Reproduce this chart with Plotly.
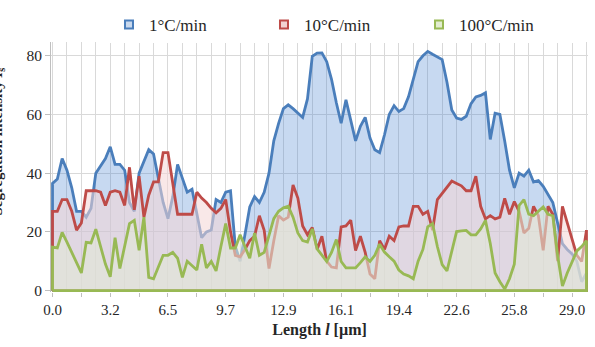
import plotly.graph_objects as go

# ---------------- data ----------------
step_um = 3.227 / 12          # spacing between successive samples along the line
n_points = 112
length_um = [i * step_um for i in range(n_points)]

rate_1 = [36.5, 38, 45, 41, 35, 27, 27, 25, 28, 40, 42.5, 45, 49, 43, 43, 41, 30, 27, 40, 44,
          48, 46.5, 38, 30, 24.5, 32, 43, 38, 33.5, 34.5, 26, 18, 20, 20.6, 31, 30, 33.5, 34, 15, 10,
          19, 28.5, 32, 30, 33.5, 40, 51, 57, 62, 63.3, 62, 60.4, 59, 65.3, 79.8, 80.9, 81, 78, 72, 64,
          57, 65, 58, 51, 56, 59, 52, 48, 47, 53, 60, 63, 61, 62, 66, 72, 78, 80, 81.5, 80.5,
          79.6, 78.7, 71, 61.5, 58.8, 58.3, 59.4, 63.7, 66, 66.5, 67.4, 51.5, 60.4, 60, 51, 41, 35, 40, 39, 41,
          37, 37.5, 35.5, 32.5, 30, 23, 16, 14, 12.5, 10, 3, 6]

rate_10 = [27, 27, 31, 31, 27, 20.6, 23, 34, 34, 34, 33.5, 29, 33.5, 34, 33.5, 29, 42, 27.5, 39, 25,
           32.5, 37, 37, 47, 47, 36.8, 26, 26, 26, 26, 33.5, 31.5, 30, 28, 26.5, 28, 31, 20, 12, 11.5,
           14, 17, 18.5, 25.5, 20.5, 7.5, 17, 25.5, 24, 25, 36, 31.5, 22, 19, 21.5, 14, 18.5, 10, 8, 7.7,
           21.7, 22, 24, 13.6, 18.5, 13, 5.6, 4, 17, 14, 18.5, 17, 21.7, 22, 22, 28.7, 28.7, 26, 27, 20.6,
           31, 33, 35, 37.3, 36.5, 35.7, 34, 34, 39, 28.7, 24.4, 25.5, 24.4, 25, 31.4, 26, 30.3, 27, 19.6, 21.2,
           28.7, 25.5, 13.7, 28.7, 26, 10, 28.7, 23, 17, 12, 9.9, 20.6]

rate_100 = [14.8, 14.5, 19.8, 16.5, 13, 9.5, 6, 16.4, 16.2, 20.9, 15, 9, 4.7, 18, 7.5, 15, 22.8, 23.9, 13.7, 25,
            4.5, 4, 8, 12, 12, 13, 11, 4.5, 10, 8.5, 7, 15.8, 7.7, 9.9, 6.7, 15, 22.8, 14.5, 14.5, 19,
            15, 11, 19.6, 12, 13, 19, 24.5, 27, 28.2, 28.7, 25, 19.6, 17, 16.5, 21, 14.2, 12, 9.9, 13, 17.4,
            9.9, 7.7, 7.7, 7.7, 9.5, 11.5, 9.9, 12, 15.8, 13.1, 11.5, 10, 7, 5.6, 5, 4, 10, 14, 21.7, 22.8,
            15, 8.8, 6.7, 13, 20.1, 20.3, 20.5, 19, 19, 21, 23.9, 16, 6, 3, 0.5, 4, 9, 29, 31, 26,
            25.5, 27, 28.5, 26, 25.5, 12, 1.5, 6, 9.9, 13.5, 15, 17]

series_names = ["1°C/min", "10°C/min", "100°C/min"]
tick_labels = ["0.0", "3.2", "6.5", "9.7", "12.9", "16.1", "19.4", "22.6", "25.8", "29.0"]

# ---------------- style ----------------
line_colors = ["#4A7EBB", "#BE4B48", "#98B954"]
fill_colors = ["rgba(70,130,210,0.30)", "rgba(244,214,213,0.55)", "rgba(226,232,214,0.58)"]
legend_fill = ["#C9D9EE", "#F2D3D2", "#E3EDD0"]
font_family = "Liberation Serif"

fig = go.Figure()
for name, vals, lc, fc in zip(series_names, [rate_1, rate_10, rate_100], line_colors, fill_colors):
    xs = [length_um[0]] + length_um + [length_um[-1], length_um[0]]
    ys = [0] + vals + [0, 0]
    fig.add_trace(go.Scatter(x=xs, y=ys, mode="lines", fill="toself", fillcolor=fc,
                             line=dict(color=lc, width=2.8), name=name, showlegend=False,
                             hoverinfo="skip"))

for name, lc, lf in zip(series_names, line_colors, legend_fill):
    fig.add_trace(go.Scatter(x=[None], y=[None], mode="markers", name=name,
                             marker=dict(symbol="square", size=8, color=lf,
                                         line=dict(color=lc, width=2))))

major_idx = list(range(0, n_points, 6))
tickvals = [length_um[i] for i in major_idx]
ticktext = [tick_labels[i // 12] if i % 12 == 0 else "" for i in major_idx]
minor_vals = [length_um[i] for i in range(3, n_points, 6)]

pad_x = 0.085
fig.update_xaxes(range=[-pad_x, length_um[-1] + pad_x], tickmode="array", tickvals=tickvals,
                 ticktext=ticktext, ticks="outside", ticklen=4, tickcolor="#BFBFBF",
                 showgrid=True, gridcolor="#D9D9D9", gridwidth=1, zeroline=False, showline=False,
                 minor=dict(tickvals=minor_vals, showgrid=True, gridcolor="#D9D9D9", ticks=""),
                 tickfont=dict(family=font_family, size=15, color="#262626"),
                 title=dict(text="<b>Length <i>l</i> [µm]</b>",
                            font=dict(family=font_family, size=16, color="#262626"), standoff=6))
fig.update_yaxes(range=[-0.5, 84.7], tickvals=[0, 20, 40, 60, 80], ticks="outside", ticklen=5,
                 tickcolor="#BFBFBF", showgrid=True, gridcolor="#D9D9D9", gridwidth=1,
                 zeroline=False, showline=True, linecolor="#BFBFBF", linewidth=1,
                 tickfont=dict(family=font_family, size=15.5, color="#262626"))

fig.add_annotation(text="<b>Segregation intensity <i>I</i><sub>s</sub></b>", xref="paper", yref="paper",
                   x=-0.079, y=0.6, xanchor="right", yanchor="middle", textangle=-90, showarrow=False,
                   font=dict(family=font_family, size=15, color="#262626"))

fig.update_layout(width=595, height=347, margin=dict(l=51, r=7, t=28, b=55),
                  paper_bgcolor="white", plot_bgcolor="white",
                  legend=dict(orientation="h", x=0.108, y=1.068, xanchor="left", yanchor="middle",
                              entrywidth=110, itemwidth=30,
                              font=dict(family=font_family, size=17, color="#262626")),
                  showlegend=True)

fig.write_html("out.html")
